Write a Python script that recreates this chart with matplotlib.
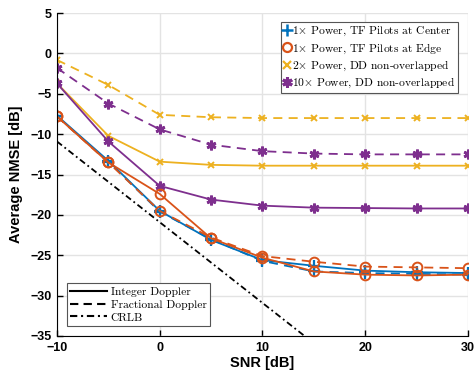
import matplotlib
matplotlib.use("Agg")
import matplotlib.pyplot as plt
from matplotlib.lines import Line2D

# SNR grid
snr = [-10, -5, 0, 5, 10, 15, 20, 25, 30]

# 1x power, TF pilots at center
center_int = [-7.7, -13.3, -19.5, -23.1, -25.6, -26.3, -26.9, -27.1, -27.2]
center_frac = [-7.8, -13.4, -19.6, -23.0, -25.7, -27.0, -27.2, -27.3, -27.4]
# 1x power, TF pilots at edge
edge_int = [-7.8, -13.5, -17.4, -22.9, -25.3, -27.0, -27.4, -27.5, -27.4]
edge_frac = [-7.8, -13.5, -19.5, -22.8, -25.1, -25.8, -26.4, -26.5, -26.6]
# 2x power, DD non-overlapped
dd2_int = [-3.7, -10.2, -13.4, -13.8, -13.9, -13.9, -13.9, -13.9, -13.9]
dd2_frac = [-0.8, -3.9, -7.6, -7.9, -8.0, -8.0, -8.0, -8.0, -8.0]
# 10x power, DD non-overlapped
dd10_int = [-3.7, -10.9, -16.4, -18.1, -18.85, -19.1, -19.15, -19.2, -19.2]
dd10_frac = [-1.8, -6.2, -9.4, -11.3, -12.1, -12.4, -12.5, -12.5, -12.5]
# CRLB
crlb = [-10.9, -15.9, -20.9, -25.9, -30.9, -35.9, -40.9, -45.9, -50.9]

blue = "#0072BD"
orange = "#D95319"
yellow = "#EDB120"
purple = "#7E2F8E"
star = (6, 2, 0)
dash = (0, (5, 3.5))
dashdot = (0, (3.5, 1.8, 1, 1.8))

plt.rcParams["mathtext.fontset"] = "cm"

fig = plt.figure(figsize=(4.76, 3.75), dpi=100)
ax = fig.add_axes([0.1197, 0.104, 0.8633, 0.861])

lw = 1.3
ax.plot(snr, crlb, color="black", ls=dashdot, lw=lw)
ax.plot(snr, dd2_frac, color=yellow, ls=dash, lw=lw, marker="x", ms=5, mew=1.4)
ax.plot(snr, dd2_int, color=yellow, ls="-", lw=lw, marker="x", ms=5, mew=1.4)
ax.plot(snr, dd10_frac, color=purple, ls=dash, lw=lw, marker=star, ms=7, mew=2)
ax.plot(snr, dd10_int, color=purple, ls="-", lw=lw, marker=star, ms=7, mew=2)
ax.plot(snr, center_int, color=blue, ls="-", lw=lw, marker="+", ms=8, mew=1.6)
ax.plot(snr, center_frac, color=blue, ls=dash, lw=lw, marker="+", ms=8, mew=1.6)
ax.plot(snr, edge_int, color=orange, ls="-", lw=lw, marker="o", ms=7, mew=1.4, mfc="none")
ax.plot(snr, edge_frac, color=orange, ls=dash, lw=lw, marker="o", ms=7, mew=1.4, mfc="none")

ax.set_xlim(-10, 30)
ax.set_ylim(-35, 5)
ax.set_xticks([-10, 0, 10, 20, 30])
ax.set_yticks(range(-35, 6, 5))
ax.grid(True, color="#e3e3e3", lw=1.0)
ax.set_axisbelow(True)
ax.spines["top"].set_visible(False)
ax.spines["right"].set_visible(False)
ax.tick_params(direction="in", length=4, width=1, labelsize=9, pad=4)
for lab in ax.get_xticklabels() + ax.get_yticklabels():
    lab.set_fontweight("bold")
    lab.set_family("Liberation Sans")
ax.set_xlabel("SNR [dB]", fontsize=10.5, fontweight="bold", family="Liberation Sans", labelpad=2)
ax.set_ylabel("Average NMSE [dB]", fontsize=10.5, fontweight="bold", family="Liberation Sans", labelpad=5)

lprop = dict(family="cmr10", size=8.3)

h1 = [
    Line2D([], [], color=blue, ls="none", marker="+", ms=8, mew=1.8),
    Line2D([], [], color=orange, ls="none", marker="o", ms=6.5, mew=1.6, mfc="none"),
    Line2D([], [], color=yellow, ls="none", marker="x", ms=5.5, mew=1.6),
    Line2D([], [], color=purple, ls="none", marker=star, ms=7.5, mew=2.2),
]
l1 = ["1$\\times$ Power, TF Pilots at Center",
      "1$\\times$ Power, TF Pilots at Edge",
      "2$\\times$ Power, DD non-overlapped",
      "10$\\times$ Power, DD non-overlapped"]
leg1 = ax.legend(h1, l1, loc="upper right", bbox_to_anchor=(0.976, 0.972), prop=lprop,
                 frameon=True, fancybox=False, edgecolor="#555555", framealpha=1,
                 handlelength=0.6, handletextpad=0.15, borderpad=0.25, labelspacing=0.25,
                 borderaxespad=0)
leg1.get_frame().set_linewidth(0.8)
ax.add_artist(leg1)

h2 = [
    Line2D([], [], color="black", ls="-", lw=1.5),
    Line2D([], [], color="black", ls=(0, (4, 2.5)), lw=1.5),
    Line2D([], [], color="black", ls=dashdot, lw=1.5),
]
l2 = ["Integer Doppler", "Fractional Doppler", "CRLB"]
leg2 = ax.legend(h2, l2, loc="lower left", bbox_to_anchor=(0.024, 0.031), prop=lprop,
                 frameon=True, fancybox=False, edgecolor="#555555", framealpha=1,
                 handlelength=3.2, handletextpad=0.3, borderpad=0.3, labelspacing=0.25,
                 borderaxespad=0)
leg2.get_frame().set_linewidth(0.8)

fig.savefig("out.png", dpi=100)
